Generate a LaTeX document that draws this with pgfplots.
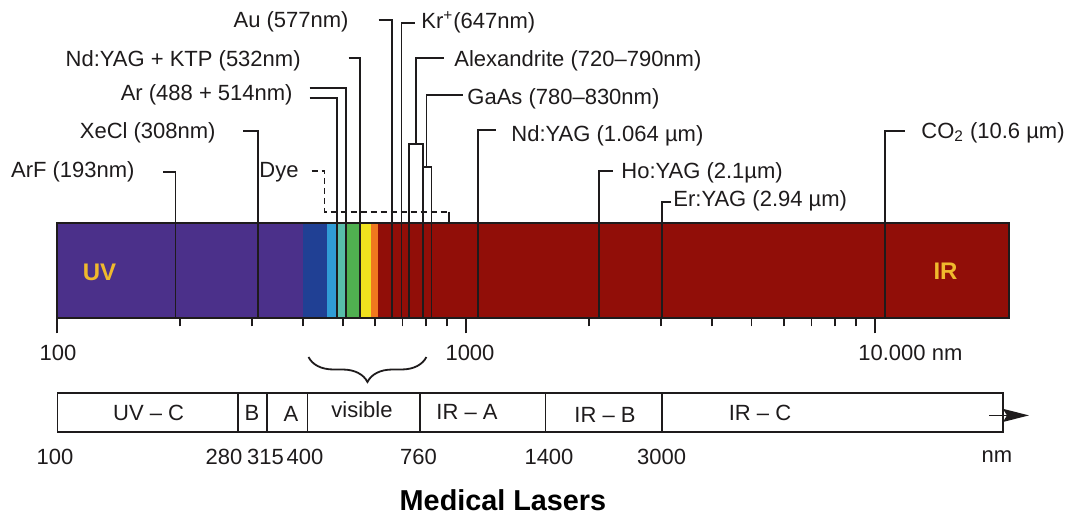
\documentclass[border=0pt]{standalone}
\usepackage{pgfplots}
\pgfplotsset{compat=1.18}
\usepackage{fontspec}
\setmainfont{Liberation Sans}
\usetikzlibrary{arrows.meta,decorations.pathreplacing}
\definecolor{cUV}{RGB}{75,48,138}
\definecolor{cBlue}{RGB}{32,64,148}
\definecolor{cLBlue}{RGB}{48,156,214}
\definecolor{cTeal}{RGB}{88,190,170}
\definecolor{cGreen}{RGB}{80,176,80}
\definecolor{cYellow}{RGB}{240,225,30}
\definecolor{cOrange}{RGB}{240,120,30}
\definecolor{cRed}{RGB}{145,14,8}
\definecolor{cLab}{RGB}{240,185,45}
\definecolor{ink}{RGB}{30,27,28}
\tikzset{
  lab/.style={font=\fontsize{11}{13}\selectfont, text=ink, inner sep=0pt},
  ln/.style={ink, line width=0.9pt, line join=miter},
}
\begin{document}
\begin{tikzpicture}
% ---------- spectrum bar (log wavelength axis) ----------
\begin{axis}[
  at={(28.5pt,97.85pt)}, anchor=south west,
  scale only axis, width=476pt, height=47.8pt,
  xmode=log, xmin=100, xmax=21300,
  ymin=222.7, ymax=318.3, y dir=reverse,
  ytick=\empty, xticklabel=\empty,
  xtick={100,1000,10000},
  xtick pos=left, tick align=outside,
  major tick length=7.5pt, minor tick length=4pt,
  every tick/.style={ink, line width=0.8pt},
  axis line style={ink, line width=1pt},
  axis on top, clip=false,
]
\addplot[fill=cUV, draw=none] coordinates {(100,222.7) (400,222.7) (400,318.3) (100,318.3)} --cycle;
\addplot[fill=cBlue, draw=none] coordinates {(400,222.7) (458,222.7) (458,318.3) (400,318.3)} --cycle;
\addplot[fill=cLBlue, draw=none] coordinates {(458,222.7) (483,222.7) (483,318.3) (458,318.3)} --cycle;
\addplot[fill=cTeal, draw=none] coordinates {(483,222.7) (508,222.7) (508,318.3) (483,318.3)} --cycle;
\addplot[fill=cGreen, draw=none] coordinates {(508,222.7) (550,222.7) (550,318.3) (508,318.3)} --cycle;
\addplot[fill=cYellow, draw=none] coordinates {(550,222.7) (587,222.7) (587,318.3) (550,318.3)} --cycle;
\addplot[fill=cOrange, draw=none] coordinates {(587,222.7) (611,222.7) (611,318.3) (587,318.3)} --cycle;
\addplot[fill=cRed, draw=none] coordinates {(611,222.7) (21300,222.7) (21300,318.3) (611,318.3)} --cycle;
% laser lines
\addplot[ln] coordinates {(182,171.7) (195,171.7) (195,318.3)};          % ArF
\addplot[ln] coordinates {(285.6,130.7) (310,130.7) (310,318.3)};        % XeCl
\addplot[ln] coordinates {(414.8,88.3) (508,88.3) (508,318.3)};          % Ar 514
\addplot[ln] coordinates {(414.8,97.7) (483.7,97.7) (483.7,318.3)};      % Ar 488
\addplot[ln] coordinates {(517,58.3) (551,58.3) (551,318.3)};            % KTP
\addplot[ln] coordinates {(612,20) (658.7,20) (658.7,318.3)};            % Au
\addplot[ln] coordinates {(750,22.7) (695.9,22.7) (695.9,318.3)};        % Kr
\addplot[ln] coordinates {(883,57.7) (754,57.7) (754,143.7)};            % Alexandrite
\addplot[ln] coordinates {(724.7,318.3) (724.7,143.7) (785.8,143.7) (785.8,318.3)};
\addplot[ln] coordinates {(981.7,95) (801,95) (801,167)};                % GaAs
\addplot[ln] coordinates {(785.8,167) (824,167) (824,318.3)};
\addplot[ln] coordinates {(1184.5,130) (1068.3,130) (1068.3,318.3)};     % Nd:YAG
\addplot[ln] coordinates {(2289,170.7) (2115,170.7) (2115,318.3)};       % Ho:YAG
\addplot[ln] coordinates {(3181,202) (3023,202) (3023,318.3)};           % Er:YAG
\addplot[ln] coordinates {(11845,131) (10581,131) (10581,318.3)};        % CO2
% dye range
\addplot[ln, dash pattern=on 3pt off 2pt] coordinates {(419.6,170.7) (451.2,170.7) (451.2,211.7) (908.5,211.7)};
\addplot[ln] coordinates {(908.5,211.7) (908.5,222.7)};
\end{axis}
% ---------- annotations (pixel frame) ----------
\begin{axis}[
  at={(0pt,0pt)}, anchor=south west,
  scale only axis, width=533.5pt, height=257pt,
  xmin=0, xmax=1067, ymin=0, ymax=514, y dir=reverse,
  hide axis, clip=false,
]
% left labels
\node[lab, anchor=east] at (axis cs:135,172) {ArF (193nm)};
\node[lab, anchor=east] at (axis cs:216,133) {XeCl (308nm)};
\node[lab, anchor=east] at (axis cs:299,172) {Dye};
\node[lab, anchor=east] at (axis cs:293,95) {Ar (488 + 514nm)};
\node[lab, anchor=east] at (axis cs:301,61) {Nd:YAG + KTP (532nm)};
\node[lab, anchor=east] at (axis cs:349,22) {Au (577nm)};
% right labels
\node[lab, anchor=west] at (axis cs:421,22) {Kr\textsuperscript{+}(647nm)};
\node[lab, anchor=west] at (axis cs:454,61) {Alexandrite (720\textendash790nm)};
\node[lab, anchor=west] at (axis cs:467,99) {GaAs (780\textendash830nm)};
\node[lab, anchor=west] at (axis cs:511,136) {Nd:YAG (1.064 µm)};
\node[lab, anchor=west] at (axis cs:621,173) {Ho:YAG (2.1µm)};
\node[lab, anchor=west] at (axis cs:673,201) {Er:YAG (2.94 µm)};
\node[lab, anchor=west] at (axis cs:921,133) {CO\textsubscript{2} (10.6 µm)};
% in-bar labels
\node[font=\bfseries\fontsize{12}{14}\selectfont, text=cLab, inner sep=0pt] at (axis cs:99.5,272) {UV};
\node[font=\bfseries\fontsize{12}{14}\selectfont, text=cLab, inner sep=0pt] at (axis cs:945.5,271) {IR};
% tick labels
\node[lab] at (axis cs:58,353) {100};
\node[lab] at (axis cs:470,353) {1000};
\node[lab, anchor=west] at (axis cs:858,353) {10.000 nm};
% brace
\draw[ink, line width=0.9pt, decorate, decoration={brace, mirror, amplitude=12.5pt}] (axis cs:308.5,357) -- (axis cs:426.4,357);
% bottom band
\addplot[ln] coordinates {(57.5,393) (1003,393) (1003,431.6) (57.5,431.6)} --cycle;
\addplot[ln] coordinates {(238,393) (238,431.6)};
\addplot[ln] coordinates {(267,393) (267,431.6)};
\addplot[ln] coordinates {(307.5,393) (307.5,431.6)};
\addplot[ln] coordinates {(420,393) (420,431.6)};
\addplot[ln] coordinates {(545.5,393) (545.5,431.6)};
\addplot[ln] coordinates {(662,393) (662,431.6)};
\addplot[ln, -{Stealth[length=13pt, width=6.5pt, inset=2pt]}] coordinates {(989,415.4) (1029,415.4)};
\node[lab] at (axis cs:148.6,413) {UV \textendash{} C};
\node[lab] at (axis cs:252,413) {B};
\node[lab] at (axis cs:291,414) {A};
\node[lab] at (axis cs:362,410) {visible};
\node[lab] at (axis cs:467,412) {IR \textendash{} A};
\node[lab] at (axis cs:605,415) {IR \textendash{} B};
\node[lab] at (axis cs:760,413) {IR \textendash{} C};
\node[lab] at (axis cs:55,457) {100};
\node[lab] at (axis cs:224,457) {280};
\node[lab] at (axis cs:265.6,457) {315};
\node[lab] at (axis cs:305,457) {400};
\node[lab] at (axis cs:418.6,457) {760};
\node[lab] at (axis cs:549,457) {1400};
\node[lab] at (axis cs:661.7,457) {3000};
\node[lab] at (axis cs:997,457) {nm};
% title
\node[font=\bfseries\fontsize{14.4}{17}\selectfont, text=black, inner sep=0pt] at (axis cs:503,500) {Medical Lasers};
\end{axis}
\pgfresetboundingbox
\useasboundingbox (0pt,0pt) rectangle (533.5pt,257pt);
\end{tikzpicture}
\end{document}
